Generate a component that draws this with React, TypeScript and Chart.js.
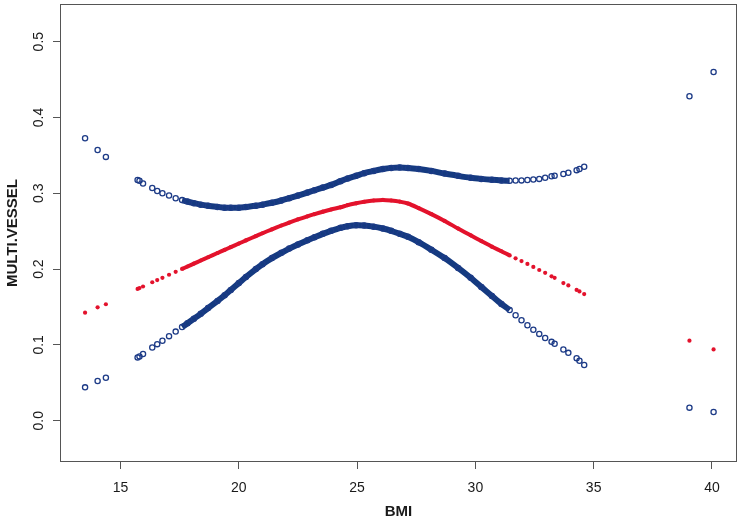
import React, { useEffect, useRef } from "react";
import { Chart, registerables } from "chart.js";

Chart.register(...registerables);

// BMI values of the observations (x)
const BMI = [
  13.5, 14.03, 14.38, 15.72, 15.8, 15.95, 16.34, 16.55, 16.77, 17.05,
  17.33, 17.6, 17.83, 18.1, 18.39, 18.7, 19.1, 19.4, 19.66, 20.0,
  20.3, 20.72, 21.0, 21.4, 21.8, 22.13, 22.5, 22.9, 23.2, 23.55,
  23.9, 24.3, 24.6, 24.96, 25.3, 25.7, 26.09, 26.44, 26.8, 27.15,
  27.6, 28.14, 28.7, 29.27, 29.8, 30.25, 30.7, 31.1, 31.45, 31.7,
  31.95, 32.2, 32.45, 32.7, 32.95, 33.22, 33.35, 33.72, 33.93, 34.28,
  34.4, 34.6, 39.05, 40.07,
];

// Upper confidence bound
const UPPER = [
  0.3726, 0.357, 0.348, 0.3175, 0.3165, 0.313, 0.307, 0.303, 0.3, 0.297,
  0.2935, 0.291, 0.289, 0.287, 0.285, 0.2835, 0.282, 0.281, 0.2808, 0.281,
  0.282, 0.2835, 0.285, 0.2875, 0.2905, 0.2935, 0.297, 0.301, 0.304, 0.3075,
  0.311, 0.316, 0.3195, 0.323, 0.3265, 0.3295, 0.332, 0.3335, 0.334, 0.3335,
  0.332, 0.3295, 0.326, 0.323, 0.3205, 0.319, 0.3178, 0.317, 0.3166, 0.3168,
  0.317, 0.3175, 0.3182, 0.319, 0.3205, 0.3225, 0.3232, 0.3255, 0.327, 0.3305,
  0.332, 0.335, 0.428, 0.46,
];

// Fitted probability
const FIT = [
  0.1425, 0.1496, 0.1536, 0.1738, 0.1749, 0.177, 0.1826, 0.1855, 0.1885, 0.1925,
  0.1964, 0.2002, 0.2034, 0.2072, 0.2113, 0.2156, 0.2212, 0.2254, 0.229, 0.2337,
  0.2378, 0.2435, 0.2473, 0.2525, 0.2575, 0.2614, 0.2655, 0.2696, 0.2725, 0.2757,
  0.2786, 0.2815, 0.2843, 0.2868, 0.2888, 0.2905, 0.2912, 0.2905, 0.289, 0.2865,
  0.2805, 0.2725, 0.2635, 0.2535, 0.2445, 0.237, 0.2295, 0.2235, 0.218, 0.2142,
  0.2105, 0.2068, 0.2028, 0.1988, 0.195, 0.1905, 0.1885, 0.1815, 0.1785, 0.1725,
  0.1705, 0.167, 0.1055, 0.094,
];

// Lower confidence bound
const LOWER = [
  0.044, 0.0524, 0.0567, 0.0835, 0.0848, 0.088, 0.0965, 0.101, 0.1055, 0.1115,
  0.1175, 0.1235, 0.1285, 0.1345, 0.141, 0.1485, 0.158, 0.1655, 0.1725, 0.1815,
  0.1895, 0.2, 0.2065, 0.2145, 0.2215, 0.227, 0.2325, 0.238, 0.242, 0.2465,
  0.2505, 0.2545, 0.2565, 0.2578, 0.2575, 0.256, 0.2535, 0.2505, 0.2465, 0.2425,
  0.2355, 0.2255, 0.2145, 0.2015, 0.1885, 0.1765, 0.1645, 0.154, 0.146, 0.139,
  0.1325, 0.126, 0.12, 0.1145, 0.109, 0.104, 0.1015, 0.094, 0.0895, 0.0825,
  0.079, 0.0735, 0.0172, 0.0115,
];

const X_TITLE = "BMI";
const Y_TITLE = "MULTI.VESSEL";

// axis ranges (R default 4% extension)
const X_MIN = 12.44;
const X_MAX = 41.06;
const Y_MIN = -0.0545;
const Y_MAX = 0.5497;

const BLUE = "#1d3b87";
const BAND_BLUE = "#143a80";
const RED = "#e3122c";
const FONT = "'Liberation Sans', Arial, Helvetica, sans-serif";

// where the observations are so dense that the markers merge into a band
const BAND_FROM = 17.5;
const BAND_TO = 31.5;

const inBand = (i: number) => BMI[i] >= BAND_FROM && BMI[i] <= BAND_TO;

const framePlugin = {
  id: "frame",
  afterDatasetsDraw(chart: any) {
    const { ctx, chartArea } = chart;
    const { left, top, right, bottom } = chartArea;
    ctx.save();
    ctx.strokeStyle = "#555555";
    ctx.lineWidth = 1;
    ctx.strokeRect(Math.round(left) + 0.5, Math.round(top) + 0.5, Math.round(right - left) - 1, Math.round(bottom - top) - 1);
    ctx.restore();
  },
};

function makeSeries(values: number[], lineColor: string, width: number, point: any) {
  return {
    data: BMI.map((x, i) => ({ x, y: values[i] })),
    showLine: true,
    borderWidth: width,
    borderColor: lineColor,
    tension: 0.3,
    segment: {
      borderColor: (ctx: any) => (inBand(ctx.p0DataIndex) && inBand(ctx.p1DataIndex) ? lineColor : "rgba(0,0,0,0)"),
    },
    ...point,
  };
}

export default function App() {
  const ref = useRef<HTMLCanvasElement | null>(null);

  useEffect(() => {
    if (!ref.current) return;
    const bluePoint = {
      pointStyle: "circle",
      pointRadius: 2.6,
      pointBorderWidth: 1.3,
      pointBorderColor: BLUE,
      pointBackgroundColor: "rgba(255,255,255,0)",
      pointHoverRadius: 2.6,
    };
    const redPoint = {
      pointStyle: "circle",
      pointRadius: 2.1,
      pointBorderWidth: 0,
      pointBorderColor: RED,
      pointBackgroundColor: RED,
      pointHoverRadius: 2.1,
    };
    const chart = new Chart(ref.current, {
      type: "scatter",
      data: {
        datasets: [
          makeSeries(UPPER, BAND_BLUE, 6, bluePoint),
          makeSeries(LOWER, BAND_BLUE, 6, bluePoint),
          makeSeries(FIT, RED, 4, redPoint),
        ] as any,
      },
      options: {
        responsive: false,
        animation: false,
        devicePixelRatio: 1,
        layout: { padding: { top: 4, right: 4, left: 0, bottom: 0 } },
        plugins: {
          legend: { display: false },
          tooltip: { enabled: false },
        },
        scales: {
          x: {
            type: "linear",
            min: X_MIN,
            max: X_MAX,
            afterFit: (s: any) => {
              s.height = 59;
              s.paddingLeft = 0;
              s.paddingRight = 0;
            },
            ticks: {
              stepSize: 5,
              includeBounds: false,
              autoSkip: false,
              maxRotation: 0,
              minRotation: 0,
              padding: 11,
              color: "#1a1a1a",
              font: { family: FONT, size: 14 },
              callback: (v: any) => String(v),
            },
            grid: {
              display: true,
              drawOnChartArea: false,
              drawTicks: true,
              tickLength: 7,
              color: "#555555",
              lineWidth: 1,
            },
            border: { display: false },
            title: {
              display: true,
              text: X_TITLE,
              color: "#1a1a1a",
              font: { family: FONT, size: 15, weight: "bold" },
              padding: { top: 0, bottom: 0 },
            },
          },
          y: {
            type: "linear",
            min: Y_MIN,
            max: Y_MAX,
            afterFit: (s: any) => {
              s.width = 60;
              s.paddingTop = 0;
              s.paddingBottom = 0;
            },
            ticks: {
              stepSize: 0.1,
              includeBounds: false,
              autoSkip: false,
              minRotation: 90,
              maxRotation: 90,
              crossAlign: "center",
              padding: 4,
              color: "#1a1a1a",
              font: { family: FONT, size: 14 },
              callback: (v: any) => Number(v).toFixed(1),
            },
            grid: {
              display: true,
              drawOnChartArea: false,
              drawTicks: true,
              tickLength: 7,
              color: "#555555",
              lineWidth: 1,
            },
            border: { display: false },
            title: {
              display: true,
              text: Y_TITLE,
              color: "#1a1a1a",
              font: { family: FONT, size: 15, weight: "bold" },
              padding: { top: 4, bottom: 0 },
            },
          },
        },
      },
      plugins: [framePlugin],
    });
    return () => chart.destroy();
  }, []);

  return (
    <div style={{ position: "fixed", left: 0, top: 0, width: 741, height: 521, background: "#ffffff" }}>
      <canvas ref={ref} width={741} height={521} style={{ display: "block", width: 741, height: 521 }} />
    </div>
  );
}
